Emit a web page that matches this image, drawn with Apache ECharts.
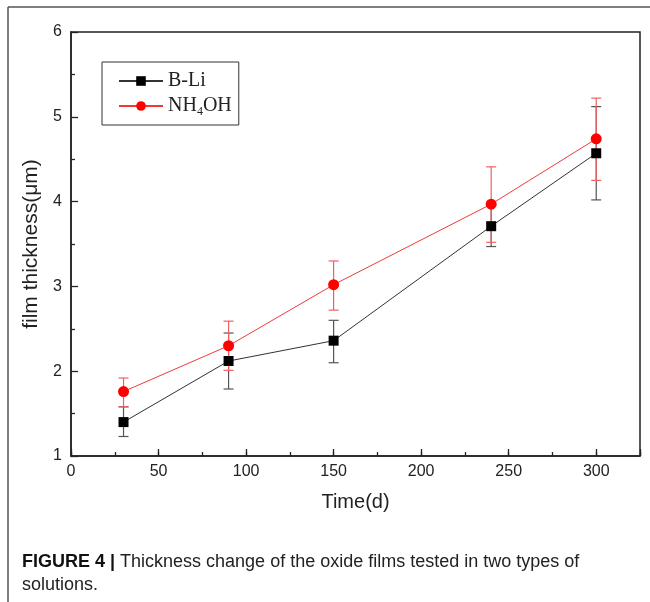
<!DOCTYPE html>
<html>
<head>
<meta charset="utf-8">
<script src="https://cdn.jsdelivr.net/npm/echarts@6/dist/echarts.min.js"></script>
<style>html,body{margin:0;padding:0;background:#fff;}#c{width:650px;height:602px;}</style>
</head>
<body>
<div id="c"></div>
<script>
const days = [30, 90, 150, 240, 300];
const bLi = [1.40, 2.12, 2.36, 3.71, 4.57];
const bLiLow = [1.23, 1.79, 2.10, 3.47, 4.02];
const bLiHigh = [1.58, 2.45, 2.60, 3.96, 5.12];
const nh4oh = [1.76, 2.30, 3.02, 3.97, 4.74];
const nh4ohLow = [1.58, 2.01, 2.72, 3.52, 4.25];
const nh4ohHigh = [1.92, 2.59, 3.30, 4.41, 5.22];
const xTicks = [0, 50, 100, 150, 200, 250, 300];
const yTicks = [1, 2, 3, 4, 5, 6];

const chart = echarts.init(document.getElementById('c'), null, {renderer: 'canvas'});

function errSeries(name, low, high, color) {
  return {
    name: name, type: 'custom', z: 1, silent: true,
    data: days.map((d, i) => [d, low[i], high[i]]),
    renderItem: function (params, api) {
      const x = api.value(0);
      const lo = api.coord([x, api.value(1)]);
      const hi = api.coord([x, api.value(2)]);
      const w = 5;
      const st = {stroke: color, lineWidth: 1.2};
      return {type: 'group', children: [
        {type: 'line', shape: {x1: lo[0], y1: lo[1], x2: hi[0], y2: hi[1]}, style: st},
        {type: 'line', shape: {x1: lo[0] - w, y1: lo[1], x2: lo[0] + w, y2: lo[1]}, style: st},
        {type: 'line', shape: {x1: hi[0] - w, y1: hi[1], x2: hi[0] + w, y2: hi[1]}, style: st}
      ]};
    }
  };
}

const option = {
  backgroundColor: '#fff',
  animation: false,
  grid: {left: 71, top: 32, right: 10, bottom: 146, show: true, borderColor: '#222', borderWidth: 1.5, backgroundColor: 'transparent'},
  xAxis: [{
    type: 'value', min: 0, max: 325, interval: 50,
    name: 'Time(d)', nameLocation: 'middle', nameGap: 36,
    nameTextStyle: {fontFamily: 'Liberation Sans', fontSize: 20, color: '#222'},
    axisLine: {show: true, onZero: false, lineStyle: {color: '#222', width: 1.5}},
    axisTick: {show: true, inside: true, length: 7, lineStyle: {color: '#222', width: 1.3}},
    axisLabel: {margin: 8, fontFamily: 'Liberation Sans', fontSize: 16, color: '#222',
      formatter: v => (xTicks.indexOf(v) >= 0 ? String(v) : '')},
    splitLine: {show: false}
  }, {
    type: 'value', min: 0, max: 325, interval: 25, position: 'bottom',
    axisLine: {show: false},
    axisTick: {show: true, inside: true, length: 4, lineStyle: {color: '#222', width: 1.3}},
    axisLabel: {show: false}, splitLine: {show: false}
  }],
  yAxis: {
    type: 'value', min: 1, max: 6, interval: 1,
    name: 'film thickness(μm)', nameLocation: 'middle', nameGap: 27,
    nameTextStyle: {fontFamily: 'Liberation Sans', fontSize: 21, color: '#222'},
    axisLine: {show: true, lineStyle: {color: '#222', width: 1.5}},
    axisTick: {show: true, inside: true, length: 7, lineStyle: {color: '#222', width: 1.3}},
    minorTick: {show: true, splitNumber: 2, length: 4, lineStyle: {color: '#222', width: 1.3}},
    axisLabel: {margin: 9, fontFamily: 'Liberation Sans', fontSize: 16, color: '#222',
      formatter: v => (yTicks.indexOf(v) >= 0 ? String(v) : '')},
    splitLine: {show: false}
  },
  legend: {
    data: ['B-Li', 'NH4OH'], orient: 'vertical', left: 102, top: 62,
    padding: [9, 7, 7, 16], itemGap: 5, itemWidth: 44, itemHeight: 12,
    borderColor: '#333', borderWidth: 1, backgroundColor: '#fff',
    textStyle: {fontFamily: 'Liberation Serif', fontSize: 20, color: '#222',
      rich: {n: {fontFamily: 'Liberation Serif', fontSize: 20, color: '#222'},
             s: {fontFamily: 'Liberation Serif', fontSize: 12, color: '#222', verticalAlign: 'bottom', padding: [12, 0, 0, 0]}}},
    formatter: function (name) {
      if (name === 'NH4OH') return '{n|NH}{s|4}{n|OH}';
      return '{n|' + name + '}';
    }
  },
  series: [
    errSeries('errB', bLiLow, bLiHigh, '#555'),
    errSeries('errN', nh4ohLow, nh4ohHigh, '#f06060'),
    {
      name: 'B-Li', type: 'line', z: 3,
      data: days.map((d, i) => [d, bLi[i]]),
      symbol: 'rect', symbolSize: 10,
      lineStyle: {color: '#333', width: 1},
      itemStyle: {color: '#000'}
    },
    {
      name: 'NH4OH', type: 'line', z: 4,
      data: days.map((d, i) => [d, nh4oh[i]]),
      symbol: 'circle', symbolSize: 11,
      lineStyle: {color: '#f03a3a', width: 1},
      itemStyle: {color: '#f00'}
    }
  ],
  graphic: [
    {type: 'line', shape: {x1: 8, y1: 7, x2: 650, y2: 7}, style: {stroke: '#555', lineWidth: 1.5}},
    {type: 'line', shape: {x1: 8, y1: 7, x2: 8, y2: 602}, style: {stroke: '#555', lineWidth: 1.5}},
    {type: 'text', left: 22, top: 551, style: {
      text: '{b|FIGURE 4 |} Thickness change of the oxide films tested in two types of\nsolutions.',
      fontFamily: 'Liberation Sans', fontSize: 18, lineHeight: 23, fill: '#222',
      rich: {b: {fontFamily: 'Liberation Sans', fontWeight: 'bold', fontSize: 18, fill: '#111'}}
    }}
  ]
};
chart.setOption(option);
</script>
</body>
</html>
